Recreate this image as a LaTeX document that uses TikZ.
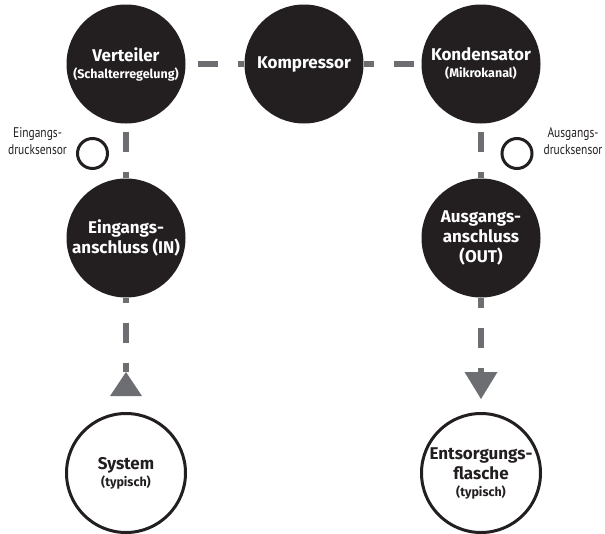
\documentclass[tikz,border=0pt]{standalone}
\usepackage{fontspec}
\setsansfont{Fira Sans}
\newfontfamily\narrowfont[FakeStretch=0.82]{PT Sans}
\usetikzlibrary{backgrounds}

\definecolor{unitblack}{HTML}{231F20}
\definecolor{pipegray}{HTML}{6D6E71}
\newcommand{\sublabel}[1]{{\fontsize{12.5}{14}\selectfont #1}}

\begin{document}
\begin{tikzpicture}[x=1pt, y=-1pt,
    unit/.style={circle, fill=unitblack, text=white, minimum size=119pt, inner sep=0pt,
      align=center, font=\sffamily\bfseries\fontsize{17}{20}\selectfont},
    tank/.style={unit, fill=white, draw=unitblack, line width=3pt, text=unitblack},
    sensor/.style={circle, draw=unitblack, line width=3pt, minimum size=30pt, inner sep=0pt},
    note/.style={align=center, text=unitblack, font=\narrowfont\fontsize{14}{17}\selectfont},
    pipe/.style={draw=pipegray, line width=6pt, dash pattern=on 20pt off 20pt}]
  \useasboundingbox (0,0) rectangle (605,533);

  % units on top row
  \node[unit] (vert) at (126,64) {Verteiler\\[-3pt]\sublabel{(Schalterregelung)}};
  \node[unit] (komp) at (304,64) {Kompressor};
  \node[unit] (kond) at (481,64) {Kondensator\\[-3pt]\sublabel{(Mikrokanal)}};

  % ports
  \node[unit] (ein) at (126,238) {Eingangs-\\anschluss (IN)};
  \node[unit] (aus) at (481,238) {Ausgangs-\\anschluss\\(OUT)};

  % system and bottle
  \node[tank] (sys) at (126,473) {System\\[-3pt]\sublabel{(typisch)}};
  \node[tank] (flasche) at (481,473) {Entsorgungs-\\flasche\\[-3pt]\sublabel{(typisch)}};

  % pressure sensors
  \node[sensor] (insens) at (92.5,153.5) {};
  \node[sensor] (outsens) at (517,153.5) {};
  \node[note] (inlabel) at (37.5,141) {Eingangs-\\drucksensor};
  \node[note] (outlabel) at (573,141) {Ausgangs-\\drucksensor};

  \coordinate (intip) at (126,372);
  \coordinate (outbase) at (481,372);

  \begin{scope}[on background layer]
    \draw[pipe, dash phase=28pt] (vert) -- (komp);
    \draw[pipe, dash phase=10pt] (komp) -- (kond);
    \draw[pipe, dash phase=32pt] (vert) -- (ein);
    \draw[pipe, dash phase=32pt] (kond) -- (aus);
    \draw[pipe, dash phase=15pt] (ein) -- (intip);
    \draw[pipe, dash phase=10pt] (aus) -- (outbase);
  \end{scope}

  % arrow heads
  \fill[pipegray] (intip) -- ++(16,24) -- ++(-32,0) -- cycle;
  \fill[pipegray] (outbase) +(-16.5,0) -- +(16.5,0) -- +(0,27) -- cycle;
\end{tikzpicture}
\end{document}
